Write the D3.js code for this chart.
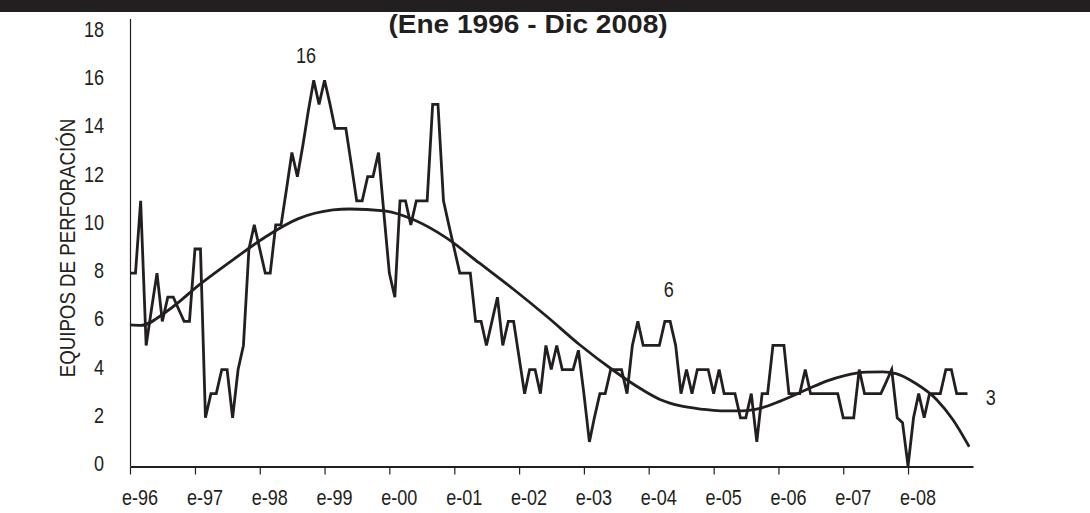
<!DOCTYPE html>
<html>
<head>
<meta charset="utf-8">
<script src="https://cdn.jsdelivr.net/npm/d3@7"></script>
<style>
  body { margin: 0; background: #fff; }
  svg { display: block; }
  text { font-family: "Liberation Sans", Arial, sans-serif; fill: #231f20; }
</style>
</head>
<body>
<div id="chart"></div>
<script>
"use strict";

// monthly drilling rigs, one row per year (Jan..Dec)
const equipos = [
  8, 8, 11, 5, 6.5, 8, 6, 7, 7, 6.5, 6, 6,          // 1996
  9, 9, 2, 3, 3, 4, 4, 2, 4, 5, 9, 10,              // 1997
  9, 8, 8, 10, 10, 11.5, 13, 12, 13.3, 14.7, 16, 15, // 1998
  16, 15, 14, 14, 14, 12.5, 11, 11, 12, 12, 13, 10.5, // 1999
  8, 7, 11, 11, 10, 11, 11, 11, 15, 15, 11, 10,     // 2000
  9, 8, 8, 8, 6, 6, 5, 6, 7, 5, 6, 6,               // 2001
  4.5, 3, 4, 4, 3, 5, 4, 5, 4, 4, 4, 4.8,           // 2002
  3, 1, 2, 3, 3, 4, 4, 4, 3, 5, 6, 5,               // 2003
  5, 5, 5, 6, 6, 5, 3, 4, 3, 4, 4, 4,               // 2004
  3, 4, 3, 3, 3, 2, 2, 3, 1, 3, 3, 5,               // 2005
  5, 5, 3, 3, 3, 4, 3, 3, 3, 3, 3, 3,               // 2006
  2, 2, 2, 4, 3, 3, 3, 3, 3.5, 4, 2, 1.8,           // 2007
  0, 2, 3, 2, 3, 3, 3, 4, 4, 3, 3, 3                // 2008
];

// polynomial trend (month index from Jan 1996, value)
const trendMonths = [0, 2, 7, 13, 19, 25, 31, 37.5, 40.5, 47, 52.5, 58.5, 64.5, 71, 77, 83,
  89.5, 94.5, 98, 101.5, 105.5, 109, 113, 116.5, 120, 125, 128.5, 132, 136, 139, 141.5, 145, 149, 152, 155];
const trendValues = [5.85, 5.83, 6.45, 7.55, 8.55, 9.5, 10.25, 10.62, 10.66, 10.58, 10.2, 9.45, 8.42, 7.3, 6.2, 5.04,
  3.93, 3.18, 2.75, 2.5, 2.36, 2.29, 2.29, 2.4, 2.68, 3.17, 3.51, 3.75, 3.89, 3.9, 3.83, 3.44, 2.75, 1.92, 0.8];

// axis ticks and labels
const years = [1996, 1997, 1998, 1999, 2000, 2001, 2002, 2003, 2004, 2005, 2006, 2007, 2008];
const yTicks = [0, 2, 4, 6, 8, 10, 12, 14, 16, 18];

// value labels placed on the chart (month index, value height, text)
const noteMonths = [32.5, 99.5, 159];
const noteValues = [17, 7.3, 2.8];
const noteTexts = ["16", "6", "3"];

const title = "(Ene 1996 - Dic 2008)";
const yTitle = "EQUIPOS DE PERFORACIÓN";

const width = 1090, height = 513;
const ink = "#231f20";
const squeeze = 0.82; // the source text is horizontally condensed

const monthDate = i => new Date(1996, i, 1);

const svg = d3.select("#chart").append("svg")
  .attr("width", width)
  .attr("height", height);

svg.append("rect").attr("width", width).attr("height", height).attr("fill", "#fff");

// dark band along the top edge
svg.append("rect")
  .attr("x", 0).attr("y", 0)
  .attr("width", width).attr("height", 12)
  .attr("fill", ink);

const x = d3.scaleTime()
  .domain([new Date(1996, 0, 1), new Date(2009, 0, 1)])
  .range([130, 973]);

const y = d3.scaleLinear()
  .domain([0, 18])
  .range([466, 32]);

// month index (may be fractional) -> pixel
const xMonth = m => x(monthDate(0)) + (x(monthDate(12)) - x(monthDate(0))) * m / 12;

// condensed text helper
function label(g, px, py, str, opts) {
  opts = opts || {};
  return g.append("text")
    .attr("transform", "translate(" + px + "," + py + ")" + (opts.rotate ? " rotate(" + opts.rotate + ")" : "") + " scale(" + (opts.sx || squeeze) + ",1)")
    .attr("text-anchor", opts.anchor || "middle")
    .attr("font-size", opts.size || 21)
    .attr("font-weight", opts.weight || "normal")
    .text(str);
}

// y axis
const yAxis = svg.append("g")
  .attr("transform", "translate(130.5,0)")
  .call(d3.axisLeft(y).tickValues(yTicks).tickSize(0).tickFormat(""));
yAxis.select(".domain").attr("stroke", ink).attr("stroke-width", 1.2)
  .attr("d", "M0," + y(0) + "V19");
yTicks.forEach(v => label(svg, 104, y(v) + 5, String(v), { anchor: "end", size: 22 }));

// x axis
const xAxis = svg.append("g")
  .attr("transform", "translate(0,466.5)")
  .call(d3.axisBottom(x)
    .tickValues(years.map(yr => new Date(yr, 0, 1)))
    .tickSize(8).tickSizeOuter(0).tickFormat(""));
xAxis.select(".domain").attr("stroke", ink).attr("stroke-width", 1.8);
xAxis.selectAll(".tick line").attr("stroke", ink).attr("stroke-width", 1.2);
years.forEach(yr => label(svg, x(new Date(yr, 0, 1)) + 10, 505, "e-" + String(yr).slice(2), { size: 22 }));

// trend line
const trendLine = d3.line()
  .x(d => xMonth(d))
  .y((d, i) => y(trendValues[i]))
  .curve(d3.curveMonotoneX);

svg.append("path")
  .datum(trendMonths)
  .attr("d", trendLine)
  .attr("fill", "none")
  .attr("stroke", ink)
  .attr("stroke-width", 2.8);

// monthly series
const dataLine = d3.line()
  .x((d, i) => x(monthDate(i)))
  .y(d => y(d));

svg.append("path")
  .datum(equipos)
  .attr("d", dataLine)
  .attr("fill", "none")
  .attr("stroke", ink)
  .attr("stroke-width", 2.8)
  .attr("stroke-linejoin", "miter");

// annotations
noteTexts.forEach((s, k) => label(svg, xMonth(noteMonths[k]), y(noteValues[k]) + 7, s, { size: 22 }));

// title and axis title
label(svg, 528, 33, title, { weight: "bold", size: 26, sx: 1.08 });
label(svg, 75, 248, yTitle, { rotate: -90, size: 22, sx: 0.85 });
</script>
</body>
</html>
